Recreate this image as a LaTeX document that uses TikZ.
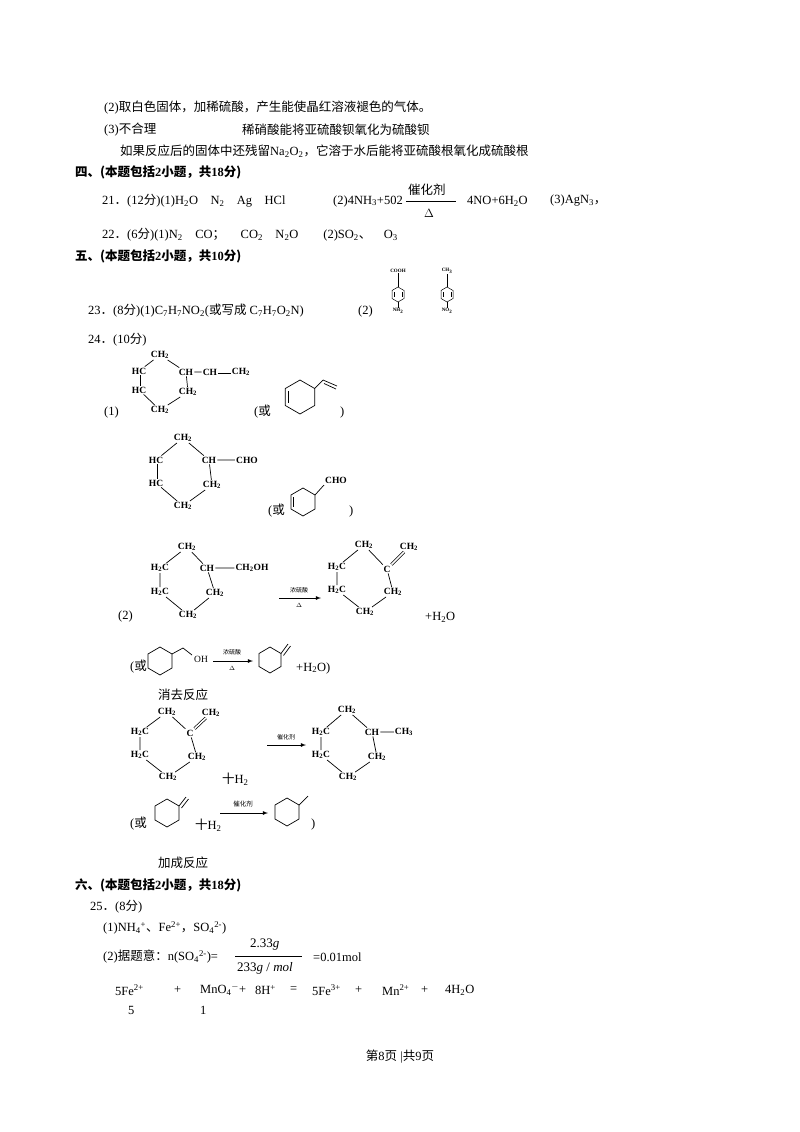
\documentclass[tikz,border=0pt]{standalone}
\usepackage{fontspec}
\setmainfont{Liberation Serif}
\newfontfamily\cjk{Noto Sans CJK SC}
\newcommand{\sbs}[1]{\textsubscript{#1}}
\newcommand{\sps}[1]{\textsuperscript{#1}}
\newcommand{\cp}[1]{{\cjk #1}}
\begin{document}
\begin{tikzpicture}[x=1pt,y=-1pt,
  txt/.style={anchor=west,inner sep=0pt,font=\fontsize{12.5}{14}\selectfont},
  hd/.style={anchor=west,inner sep=0pt,font=\fontsize{12.5}{14}\selectfont\bfseries},
  atm/.style={inner sep=1pt,font=\fontsize{9.5}{10}\selectfont\bfseries},
  sat/.style={inner sep=0.5pt,font=\fontsize{5}{6}\selectfont\bfseries},
  bd/.style={line width=0.7pt},
  db/.style={line width=0.7pt,double,double distance=1.6pt},
  rx/.style={-latex,line width=0.8pt}]
\useasboundingbox (0,0) rectangle (800,1132);
\fill[white] (0,0) rectangle (800,1132);
% top text
\node[txt] (l1) at (104,108) {(2){\cjk 取白色固体，加稀硫酸，产生能使晶红溶液褪色的气体。}};
\node[txt] (l2) at (104,130) {(3){\cjk 不合理}};
\node[txt] (l2b) at (242,130) {\cjk 稀硝酸能将亚硫酸钡氧化为硫酸钡};
\node[txt] (l3) at (120,151) {{\cjk 如果反应后的固体中还残留}Na\sbs{2}O\sbs{2}{\cjk ，它溶于水后能将亚硫酸根氧化成硫酸根}};
\node[hd] (h4) at (75,172) {{\cjk 四、(本题包括}2{\cjk 小题，共}18{\cjk 分)}};
\node[txt] (q21) at (102,201) {21\cp{．}(12{\cjk 分})(1)H\sbs{2}O\quad N\sbs{2}\quad Ag\quad HCl};
\node[txt] (q21b) at (333,201) {(2)4NH\sbs{3}+502};
\node[txt] (cat) at (408,190) {\cjk 催化剂};
\node[txt] (del) at (424,213) {$\Delta$};
\draw[line width=0.5pt] (406,201) -- (456,201);
\node[txt] (q21c) at (467,201) {4NO+6H\sbs{2}O};
\node[txt] (q21d) at (550,201) {(3)AgN\sbs{3}\cp{，}};
\node[txt] (q22) at (102,235) {22\cp{．}(6{\cjk 分})(1)N\sbs{2}\quad CO\cp{；}\quad\ CO\sbs{2}\quad N\sbs{2}O\qquad (2)SO\sbs{2}\cp{、}\quad O\sbs{3}};
\node[hd] (h5) at (75,256) {{\cjk 五、(本题包括}2{\cjk 小题，共}10{\cjk 分)}};
\node[txt] (q23) at (88,311) {23\cp{．}(8{\cjk 分})(1)C\sbs{7}H\sbs{7}NO\sbs{2}({\cjk 或写成} C\sbs{7}H\sbs{7}O\sbs{2}N)};
\node[txt] (q23b) at (358,311) {(2)};
% small benzene rings
\foreach \cx/\tp/\bt/\nm in {398/COOH/NH\sbs{2}/a,447/CH\sbs{3}/NO\sbs{2}/b}{
  \draw[line width=0.5pt] (\cx,287) -- (\cx+6,290.5) -- (\cx+6,298.5) -- (\cx,302) -- (\cx-6,298.5) -- (\cx-6,290.5) -- cycle;
  \draw[line width=0.4pt] (\cx+4,292) -- (\cx+4,297) (\cx-4,292) -- (\cx-4,297);
  \node[sat] (t\nm) at (\cx,271) {\tp};
  \node[sat] (u\nm) at (\cx,311) {\bt};
  \draw[line width=0.5pt] (t\nm) -- (\cx,287) (\cx,302) -- (u\nm);
}
\node[txt] (q24) at (88,340) {24\cp{．}(10{\cjk 分})};
% structure 1
\node[atm] (a1) at (160,355) {CH\sbs{2}};
\node[atm] (a2) at (139,371) {HC};
\node[atm] (a3) at (186,372) {CH};
\node[atm] (a3b) at (210,372) {CH};
\node[atm] (a3c) at (241,372) {CH\sbs{2}};
\node[atm] (a4) at (139,390) {HC};
\node[atm] (a5) at (188,392) {CH\sbs{2}};
\node[atm] (a6) at (160,410) {CH\sbs{2}};
\draw[bd] (a2)--(a1) (a1)--(a3) (a3)--(a3b) (a3)--(a5) (a5)--(a6) (a6)--(a4);
\draw[db] (a3b.east)--(a3c.west);
\draw[db] (a2)--(a4);
\node[txt] (p1) at (104,412) {(1)};
\node[txt] (o1) at (254,412) {(\cjk 或};
\draw[bd] (300,380)--(314.7,388.5)--(314.7,405.5)--(300,414)--(285.3,405.5)--(285.3,388.5)--cycle;
\draw[bd] (288.5,391)--(288.5,403);
\draw[bd] (314.7,388.5)--(323,380);
\draw[bd] (323,380)--(337,386) (324,383.5)--(336,389);
\node[txt] (c1) at (340,412) {)};
% structure 2
\node[atm] (b1) at (183,438) {CH\sbs{2}};
\node[atm] (b2) at (156,460) {HC};
\node[atm] (b3) at (209,460) {CH};
\node[atm] (b3b) at (247,460) {CHO};
\node[atm] (b4) at (156,483) {HC};
\node[atm] (b5) at (212,485) {CH\sbs{2}};
\node[atm] (b6) at (183,506) {CH\sbs{2}};
\draw[bd] (b2)--(b1) (b1)--(b3) (b3)--(b3b) (b3)--(b5) (b5)--(b6) (b6)--(b4);
\draw[db] (b2)--(b4);
\node[txt] (o2) at (268,511) {(\cjk 或};
\draw[bd] (303,488)--(315,495)--(315,509)--(303,516)--(291,509)--(291,495)--cycle;
\draw[bd] (293.5,497)--(293.5,507);
\draw[bd] (315,495)--(324,485);
\node[atm] (cho) at (336,480) {CHO};
\node[txt] (c2) at (349,511) {)};
% structure 3
\node[atm] (d1) at (187,547) {CH\sbs{2}};
\node[atm] (d2) at (160,568) {H\sbs{2}C};
\node[atm] (d3) at (207,568) {CH};
\node[atm] (d3b) at (252,568) {CH\sbs{2}OH};
\node[atm] (d4) at (160,592) {H\sbs{2}C};
\node[atm] (d5) at (215,593) {CH\sbs{2}};
\node[atm] (d6) at (188,615) {CH\sbs{2}};
\draw[bd] (d2)--(d1) (d1)--(d3) (d3)--(d3b) (d3)--(d5) (d5)--(d6) (d6)--(d4) (d2)--(d4);
\node[txt] (p2) at (118,616) {(2)};
\coordinate (r1s) at (279,598); \coordinate (r1e) at (321,598);
\draw[rx] (r1s)--(r1e);
\node[sat,font=\fontsize{6}{7}\selectfont\cjk] (r1t) at (299,590) {浓硫酸};
\node[sat,font=\fontsize{6}{7}\selectfont] (r1d) at (299,605) {$\Delta$};
\node[atm] (e1) at (364,545) {CH\sbs{2}};
\node[atm] (e1b) at (409,547) {CH\sbs{2}};
\node[atm] (e2) at (337,567) {H\sbs{2}C};
\node[atm] (e3) at (387,569) {C};
\node[atm] (e4) at (337,590) {H\sbs{2}C};
\node[atm] (e5) at (393,592) {CH\sbs{2}};
\node[atm] (e6) at (365,612) {CH\sbs{2}};
\draw[bd] (e2)--(e1) (e1)--(e3) (e3)--(e5) (e5)--(e6) (e6)--(e4) (e2)--(e4);
\draw[db] (e3)--(e1b);
\node[txt] (w1) at (425,617) {+H\sbs{2}O};
% line 4
\node[txt] (o3) at (130,667) {(\cjk 或};
\draw[bd] (160,647)--(172,654)--(172,668)--(160,675)--(148,668)--(148,654)--cycle;
\draw[bd] (172,654)--(183,648)--(192,655);
\node[atm,font=\fontsize{9.5}{10}\selectfont] (oh) at (201,659) {OH};
\coordinate (r2s) at (213,661); \coordinate (r2e) at (253,661);
\draw[rx] (r2s)--(r2e);
\node[sat,font=\fontsize{6}{7}\selectfont\cjk] (r2t) at (232,652) {浓硫酸};
\node[sat,font=\fontsize{6}{7}\selectfont] (r2d) at (232,668) {$\Delta$};
\draw[bd] (270,647)--(281,653.5)--(281,666.5)--(270,673)--(259,666.5)--(259,653.5)--cycle;
\draw[bd] (281,653.5)--(288,644) (283.5,655.5)--(290.5,646);
\node[txt] (w2) at (296,668) {+H\sbs{2}O)};
% structure 5
\node[txt] (xq) at (158,695) {\cjk 消去反应};
\node[atm] (f1) at (167,712) {CH\sbs{2}};
\node[atm] (f1b) at (211,713) {CH\sbs{2}};
\node[atm] (f2) at (140,732) {H\sbs{2}C};
\node[atm] (f3) at (190,733) {C};
\node[atm] (f4) at (140,755) {H\sbs{2}C};
\node[atm] (f5) at (197,757) {CH\sbs{2}};
\node[atm] (f6) at (168,777) {CH\sbs{2}};
\draw[bd] (f2)--(f1) (f1)--(f3) (f3)--(f5) (f5)--(f6) (f6)--(f4) (f2)--(f4);
\draw[db] (f3)--(f1b);
\node[txt] (h2a) at (222,779) {{\cjk 十}H\sbs{2}};
\coordinate (r3s) at (267,745); \coordinate (r3e) at (306,745);
\draw[rx] (r3s)--(r3e);
\node[sat,font=\fontsize{6}{7}\selectfont\cjk] (r3t) at (286,737) {催化剂};
\node[atm] (g1) at (347,710) {CH\sbs{2}};
\node[atm] (g2) at (321,732) {H\sbs{2}C};
\node[atm] (g3) at (372,732) {CH};
\node[atm] (g3b) at (404,732) {CH\sbs{3}};
\node[atm] (g4) at (321,755) {H\sbs{2}C};
\node[atm] (g5) at (377,757) {CH\sbs{2}};
\node[atm] (g6) at (348,777) {CH\sbs{2}};
\draw[bd] (g2)--(g1) (g1)--(g3) (g3)--(g3b) (g3)--(g5) (g5)--(g6) (g6)--(g4) (g2)--(g4);
% line 6
\node[txt] (o4) at (130,824) {(\cjk 或};
\draw[bd] (167,799)--(179,806)--(179,820)--(167,827)--(155,820)--(155,806)--cycle;
\draw[bd] (179,806)--(186,797) (181.5,808)--(188.5,799);
\node[txt] (h2b) at (195,825) {{\cjk 十}H\sbs{2}};
\coordinate (r4s) at (220,813); \coordinate (r4e) at (268,813);
\draw[rx] (r4s)--(r4e);
\node[sat,font=\fontsize{6.5}{7}\selectfont\cjk] (r4t) at (243,804) {催化剂};
\draw[bd] (287,798)--(299,805)--(299,819)--(287,826)--(275,819)--(275,805)--cycle;
\draw[bd] (299,805)--(308,796);
\node[txt] (c6) at (311,824) {)};
\node[txt] (jc) at (158,863) {\cjk 加成反应};
% section 6
\node[hd] (h6) at (75,885) {{\cjk 六、(本题包括}2{\cjk 小题，共}18{\cjk 分)}};
\node[txt] (q25) at (90,907) {25\cp{．}(8{\cjk 分})};
\node[txt] (q25a) at (103,928) {(1)NH\sbs{4}\sps{+}\cp{、}Fe\sps{2+}\cp{，}SO\sbs{4}\sps{2-})};
\node[txt] (q25b) at (103,957) {(2){\cjk 据题意：}n(SO\sbs{4}\sps{2-})=};
\node[txt,font=\fontsize{13}{14}\selectfont] (num) at (250,945) {2.33\textit{g}};
\node[txt,font=\fontsize{13}{14}\selectfont] (den) at (237,968) {233\textit{g} / \textit{mol}};
\draw[line width=0.5pt] (235,956) -- (302,956);
\node[txt] (q25c) at (313,957) {=0.01mol};
\node[txt] (e1x) at (115,990) {5Fe\sps{2+}};
\node[txt] (e2x) at (174,990) {+};
\node[txt] (e3x) at (200,990) {MnO\sbs{4}\sps{$-$}+};
\node[txt] (e4x) at (255,990) {8H\sps{+}};
\node[txt] (e5x) at (290,990) {=};
\node[txt] (e6x) at (312,990) {5Fe\sps{3+}};
\node[txt] (e7x) at (355,990) {+};
\node[txt] (e8x) at (382,990) {Mn\sps{2+}};
\node[txt] (e9x) at (421,990) {+};
\node[txt] (e10x) at (445,990) {4H\sbs{2}O};
\node[txt] (n5) at (128,1010) {5};
\node[txt] (n1) at (200,1010) {1};
\node[txt,anchor=center] (ft) at (400,1057) {{\cjk 第}8{\cjk 页}\ |{\cjk 共}9{\cjk 页}};
\end{tikzpicture}
\end{document}
